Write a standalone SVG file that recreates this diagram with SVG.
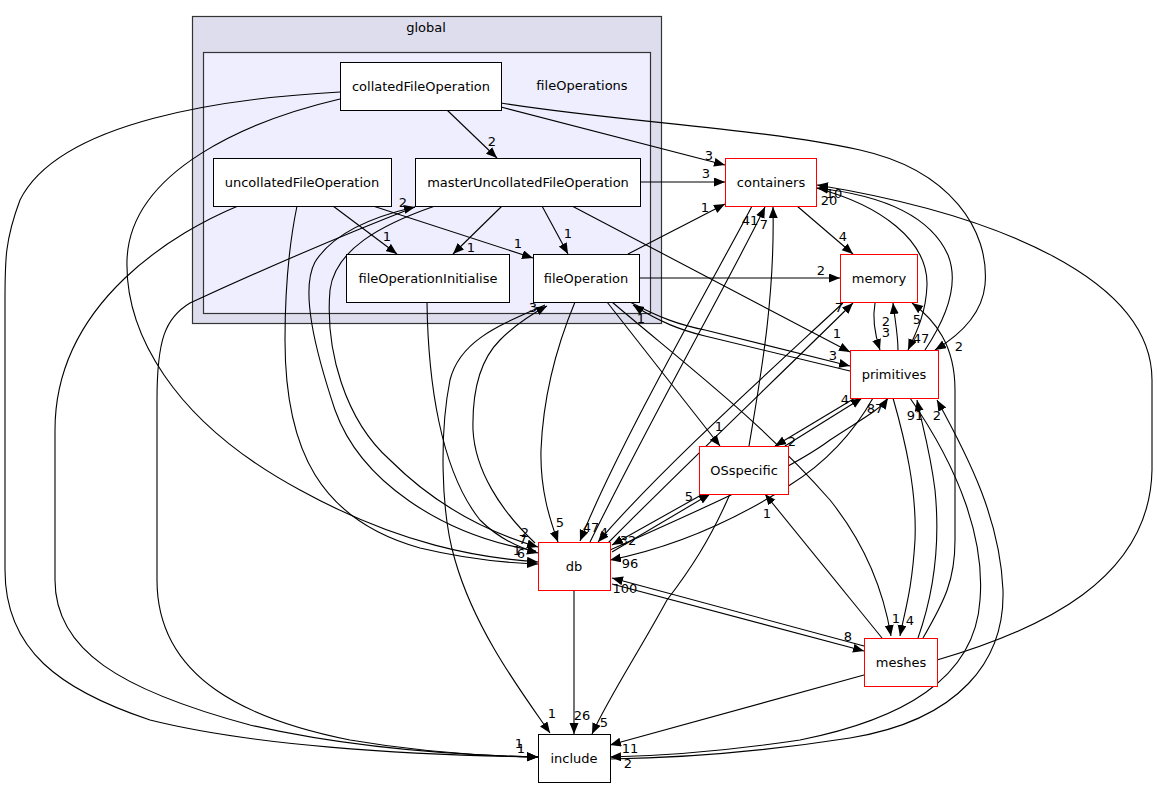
<svg xmlns="http://www.w3.org/2000/svg" width="1157" height="788" viewBox="0 0 1157 788">
<defs>
<marker id="ah" markerUnits="userSpaceOnUse" markerWidth="12" markerHeight="10" refX="11" refY="4.5" orient="auto">
<path d="M0,0 L11,4.5 L0,9 z" fill="#000"/>
</marker>
<style>
text{font-family:"DejaVu Sans","Liberation Sans",sans-serif;font-size:13px;fill:#000}
.n{text-anchor:middle}
.l{text-anchor:middle}
.box{fill:#fff;stroke:#000;stroke-width:1}
.ext{fill:#fff;stroke:#ff0000;stroke-width:1}
.e{fill:none;stroke:#000;stroke-width:1.1;marker-end:url(#ah)}
</style>
</defs>
<rect width="1157" height="788" fill="#fff"/>
<g id="cluster_global">
<rect x="192.5" y="16.5" width="469" height="307" fill="#ddddee" stroke="#333" stroke-width="1.2"/>
<text class="n" x="426" y="32">global</text>
</g>
<g id="cluster_fileOperations">
<rect x="203.5" y="52.5" width="447" height="261" fill="#eeeeff" stroke="#333" stroke-width="1.2"/>
<text class="n" x="582" y="90">fileOperations</text>
</g>
<g id="edges">
<path class="e" d="M447,110 L497,158"/>
<path class="e" d="M501,107 L725,165"/>
<path class="e" d="M501,103 C620,122 760,128 860,150 C950,170 990,230 985,285 C982,315 960,335 935,350"/>
<path class="e" d="M340,92 C230,98 60,120 20,200 C5,240 5,260 5,300 L5,570 C5,650 60,690 150,720 C250,745 400,755 538,757"/>
<path class="e" d="M340,99 C250,120 130,170 127,260 C125,330 170,420 300,490 C400,545 480,558 538,562"/>
<path class="e" d="M333,206 L397,254"/>
<path class="e" d="M373,206 L533,258"/>
<path class="e" d="M238,206 C180,230 55,300 55,430 L55,580 C55,650 120,690 250,725 C350,748 450,755 538,757"/>
<path class="e" d="M297,206 C290,240 285,280 285,340 C285,450 320,520 420,548 C470,560 510,563 538,564"/>
<path class="e" d="M640,182 L725,182"/>
<path class="e" d="M502,206 L453,254"/>
<path class="e" d="M542,206 L568,254"/>
<path class="e" d="M572,206 L850,352"/>
<path class="e" d="M536,551 C440,535 360,480 335,410 C315,350 300,290 315,262 C335,230 380,215 415,207"/>
<path class="e" d="M435,206 C380,225 335,250 330,290 C325,350 345,420 390,460 C430,500 480,530 538,547"/>
<path class="e" d="M415,207 C330,240 240,280 190,303 C165,318 157,340 157,400 L157,580 C157,680 250,720 350,740 C420,752 480,756 538,757"/>
<path class="e" d="M427,302 C428,380 440,470 480,520 C500,540 520,548 538,553"/>
<path class="e" d="M535,543 C500,510 475,470 473,430 C472,390 480,360 500,340 C515,325 530,315 547,306"/>
<path class="e" d="M545,305 C500,325 460,340 450,380 C440,430 440,510 455,560 C475,630 520,690 550,733"/>
<path class="e" d="M575,302 C555,350 543,400 541,450 C540,490 550,520 558,542"/>
<path class="e" d="M607,302 L720,446"/>
<path class="e" d="M640,278 L840,278"/>
<path class="e" d="M628,254 L725,204"/>
<path class="e" d="M630,302 C660,318 680,325 705,330 L850,366"/>
<path class="e" d="M850,371 L705,336 C680,330 660,322 633,305"/>
<path class="e" d="M612,302 C680,360 760,420 830,500 C870,550 885,600 891,636"/>
<path class="e" d="M797,206 L853,254"/>
<path class="e" d="M752,206 C730,250 620,440 580,541"/>
<path class="e" d="M590,542 C650,420 740,260 765,207"/>
<path class="e" d="M816,188 C880,205 928,240 927,285 C926,315 915,335 908,350"/>
<path class="e" d="M843,303 C760,380 660,470 598,542"/>
<path class="e" d="M608,543 C680,470 780,375 853,303"/>
<path class="e" d="M875,303 C872,320 875,335 880,350"/>
<path class="e" d="M898,350 C898,335 895,320 893,303"/>
<path class="e" d="M925,350 C945,320 960,285 948,255 C930,215 880,195 817,188"/>
<path class="e" d="M855,398 L775,446"/>
<path class="e" d="M873,398 C855,430 830,460 790,485 C720,530 660,550 610,560"/>
<path class="e" d="M910,398 C960,470 985,540 980,600 C975,680 900,720 800,740 C720,752 660,756 610,757"/>
<path class="e" d="M893,398 C905,440 917,490 915,540 C912,590 905,610 900,636"/>
<path class="e" d="M749,446 C760,380 775,300 773,207"/>
<path class="e" d="M785,446 L862,398"/>
<path class="e" d="M703,494 L612,545"/>
<path class="e" d="M730,494 C710,540 690,570 667,600 C640,650 610,695 592,734"/>
<path class="e" d="M610,550 C700,510 790,470 830,440 C860,420 880,410 888,398"/>
<path class="e" d="M612,552 L710,494"/>
<path class="e" d="M612,584 L864,651"/>
<path class="e" d="M574,590 L574,734"/>
<path class="e" d="M937,660 C1040,630 1150,580 1152,470 L1152,380 C1152,280 1000,215 817,185"/>
<path class="e" d="M923,638 C945,600 955,580 955,540 L955,390 C955,345 935,320 912,303"/>
<path class="e" d="M918,638 C935,590 940,540 935,490 C930,450 922,425 917,400"/>
<path class="e" d="M882,638 L765,494"/>
<path class="e" d="M864,646 L612,578"/>
<path class="e" d="M864,675 L610,745"/>
<path class="e" d="M610,759 C680,758 760,752 850,738 C960,720 1005,660 1003,590 C1000,520 970,460 937,400"/>
</g>
<g id="edge_labels">
<text class="l" x="492" y="146">2</text>
<text class="l" x="709" y="160">3</text>
<text class="l" x="706" y="178">3</text>
<text class="l" x="705" y="212">1</text>
<text class="l" x="959" y="351">2</text>
<text class="l" x="519" y="748">1</text>
<text class="l" x="521" y="753">1</text>
<text class="l" x="387" y="241">1</text>
<text class="l" x="518" y="248">1</text>
<text class="l" x="471" y="252">1</text>
<text class="l" x="568" y="238">1</text>
<text class="l" x="837" y="338">1</text>
<text class="l" x="403" y="207">2</text>
<text class="l" x="525" y="537">2</text>
<text class="l" x="523" y="544">7</text>
<text class="l" x="517" y="555">1</text>
<text class="l" x="521" y="558">6</text>
<text class="l" x="533" y="312">3</text>
<text class="l" x="552" y="718">1</text>
<text class="l" x="560" y="527">5</text>
<text class="l" x="719" y="431">1</text>
<text class="l" x="821" y="275">2</text>
<text class="l" x="833" y="360">3</text>
<text class="l" x="641" y="323">1</text>
<text class="l" x="896" y="623">1</text>
<text class="l" x="843" y="241">4</text>
<text class="l" x="591" y="532">47</text>
<text class="l" x="750" y="225">41</text>
<text class="l" x="764" y="229">7</text>
<text class="l" x="604" y="537">4</text>
<text class="l" x="839" y="312">7</text>
<text class="l" x="886" y="326">2</text>
<text class="l" x="886" y="337">3</text>
<text class="l" x="921" y="343">47</text>
<text class="l" x="829" y="205">20</text>
<text class="l" x="834" y="198">10</text>
<text class="l" x="917" y="324">5</text>
<text class="l" x="845" y="404">4</text>
<text class="l" x="792" y="446">2</text>
<text class="l" x="875" y="413">87</text>
<text class="l" x="630" y="568">96</text>
<text class="l" x="689" y="501">5</text>
<text class="l" x="628" y="545">32</text>
<text class="l" x="848" y="641">8</text>
<text class="l" x="625" y="593">100</text>
<text class="l" x="582" y="720">26</text>
<text class="l" x="604" y="727">5</text>
<text class="l" x="630" y="753">11</text>
<text class="l" x="628" y="768">2</text>
<text class="l" x="937" y="420">2</text>
<text class="l" x="910" y="625">4</text>
<text class="l" x="915" y="420">91</text>
<text class="l" x="767" y="518">1</text>
</g>
<g id="node_collatedFileOperation"><rect class="box" x="340.5" y="62.5" width="161" height="48"/><text class="n" x="421" y="91">collatedFileOperation</text></g>
<g id="node_uncollatedFileOperation"><rect class="box" x="213.5" y="158.5" width="178" height="48"/><text class="n" x="302" y="187">uncollatedFileOperation</text></g>
<g id="node_masterUncollatedFileOperation"><rect class="box" x="415.5" y="158.5" width="225" height="48"/><text class="n" x="528" y="187">masterUncollatedFileOperation</text></g>
<g id="node_fileOperationInitialise"><rect class="box" x="346.5" y="254.5" width="163" height="48"/><text class="n" x="428" y="283">fileOperationInitialise</text></g>
<g id="node_fileOperation"><rect class="box" x="533.5" y="254.5" width="106" height="48"/><text class="n" x="586" y="283">fileOperation</text></g>
<g id="node_containers"><rect class="ext" x="725.5" y="158.5" width="91" height="48"/><text class="n" x="771" y="187">containers</text></g>
<g id="node_memory"><rect class="ext" x="840.5" y="254.5" width="77" height="48"/><text class="n" x="879" y="283">memory</text></g>
<g id="node_primitives"><rect class="ext" x="850.5" y="350.5" width="88" height="48"/><text class="n" x="894" y="379">primitives</text></g>
<g id="node_OSspecific"><rect class="ext" x="699.5" y="446.5" width="89" height="48"/><text class="n" x="744" y="475">OSspecific</text></g>
<g id="node_db"><rect class="ext" x="538.5" y="542.5" width="72" height="48"/><text class="n" x="574" y="571">db</text></g>
<g id="node_meshes"><rect class="ext" x="864.5" y="638.5" width="73" height="48"/><text class="n" x="901" y="667">meshes</text></g>
<g id="node_include"><rect class="box" x="538.5" y="734.5" width="72" height="48"/><text class="n" x="574" y="763">include</text></g>
</svg>
